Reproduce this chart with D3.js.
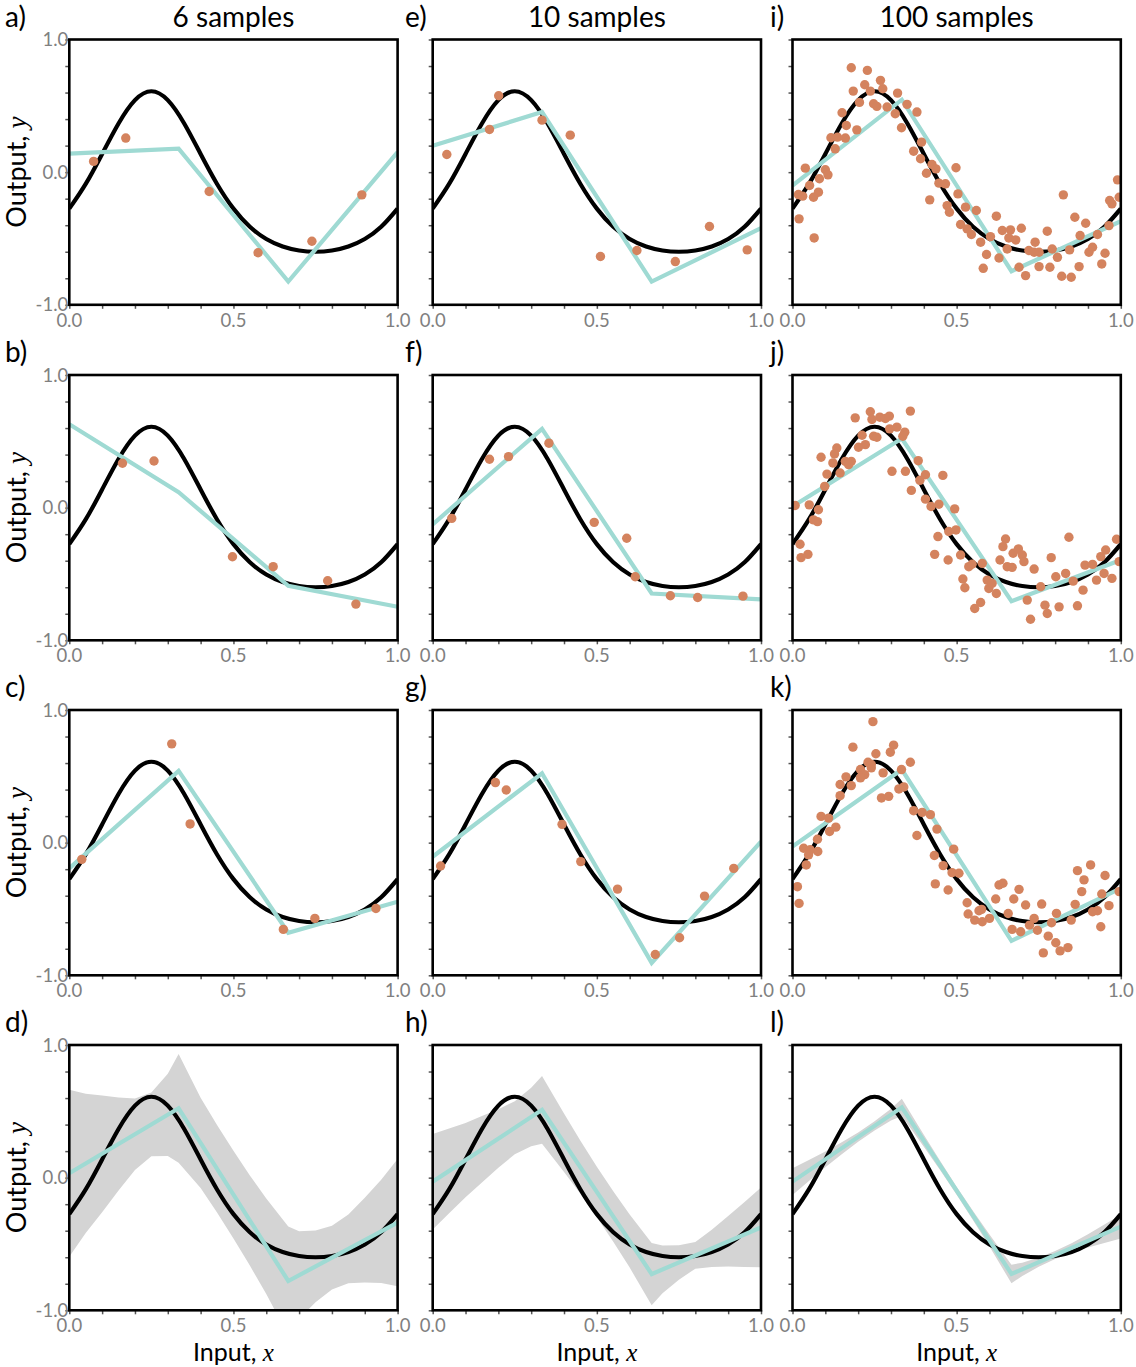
<!DOCTYPE html>
<html><head><meta charset="utf-8">
<script src="https://cdn.jsdelivr.net/npm/d3@7"></script>
<style>body{margin:0;background:#fff}svg{display:block}</style>
</head><body><svg id="c" width="1136" height="1367"></svg>
<script>
// ---------------- DATA ----------------
const colTitles = ["6 samples", "10 samples", "100 samples"];
const panelLetters = [["a)","b)","c)","d)"],["e)","f)","g)","h)"],["i)","j)","k)","l)"]];
const xTickLabels = [0, 0.5, 1.0];
const yTickLabels = [-1, 0, 1];
const xMinorTicks = [0,0.1,0.2,0.3,0.4,0.5,0.6,0.7,0.8,0.9,1.0];
const yMinorTicks = [-1,-0.8,-0.6,-0.4,-0.2,0,0.2,0.4,0.6,0.8,1.0];

// true function (black curve)
const trueX = [0,0.05,0.1,0.15,0.2,0.25,0.3,0.35,0.4,0.45,0.5,0.55,0.6,0.65,0.7,0.75,0.8,0.85,0.9,0.95,1.0];
const trueY = [-0.275,-0.089,0.137,0.367,0.543,0.610,0.543,0.367,0.137,-0.089,-0.275,-0.412,-0.504,-0.561,-0.591,-0.600,-0.591,-0.561,-0.504,-0.412,-0.275];

// piecewise-linear model fits (cyan), value at each knot
const knotX = [0, 0.333, 0.667, 1.0];
const fitA = [0.139, 0.177, -0.825, 0.151];
const fitB = [0.629, 0.116, -0.589, -0.747];
const fitC = [-0.194, 0.541, -0.679, -0.445];
const fitD = [0.033, 0.523, -0.779, -0.339];
const fitE = [0.199, 0.453, -0.825, -0.423];
const fitF = [-0.126, 0.594, -0.647, -0.692];
const fitG = [-0.106, 0.523, -0.906, 0.008];
const fitH = [-0.030, 0.511, -0.727, -0.375];
const fitI = [-0.101, 0.546, -0.747, -0.370];
const fitJ = [0.009, 0.521, -0.705, -0.395];
const fitK = [-0.029, 0.551, -0.740, -0.344];
const fitL = [-0.030, 0.530, -0.726, -0.369];

// training samples (orange points)
const samplesA = [[0.074,0.081],[0.172,0.257],[0.426,-0.146],[0.575,-0.608],[0.739,-0.521],[0.891,-0.171]];
const samplesB = [[0.162,0.335],[0.258,0.352],[0.497,-0.370],[0.621,-0.445],[0.787,-0.551],[0.873,-0.727]];
const samplesC = [[0.038,-0.126],[0.312,0.745],[0.368,0.141],[0.652,-0.654],[0.748,-0.571],[0.934,-0.496]];
const samplesE = [[0.043,0.133],[0.173,0.322],[0.201,0.576],[0.333,0.392],[0.419,0.279],[0.511,-0.636],[0.622,-0.591],[0.739,-0.674],[0.843,-0.410],[0.958,-0.586]];
const samplesF = [[0.058,-0.081],[0.173,0.365],[0.231,0.385],[0.354,0.486],[0.492,-0.111],[0.591,-0.231],[0.617,-0.521],[0.724,-0.664],[0.807,-0.677],[0.945,-0.667]];
const samplesG = [[0.024,-0.176],[0.191,0.453],[0.224,0.397],[0.394,0.138],[0.451,-0.143],[0.563,-0.350],[0.678,-0.843],[0.752,-0.717],[0.828,-0.403],[0.917,-0.194]];
const samplesI = [[0.179,0.787],[0.228,0.767],[0.268,0.692],[0.220,0.659],[0.185,0.611],[0.237,0.611],[0.275,0.629],[0.320,0.596],[0.204,0.526],[0.247,0.516],[0.257,0.496],[0.288,0.491],[0.313,0.440],[0.349,0.511],[0.379,0.453],[0.151,0.448],[0.164,0.352],[0.196,0.319],[0.332,0.335],[0.117,0.259],[0.137,0.264],[0.161,0.257],[0.130,0.176],[0.369,0.158],[0.390,0.101],[0.393,0.226],[0.425,0.058],[0.437,0.025],[0.408,-0.008],[0.498,0.033],[0.039,0.030],[0.100,0.018],[0.108,-0.020],[0.082,-0.050],[0.052,-0.101],[0.079,-0.151],[0.064,-0.189],[0.018,-0.169],[0.031,-0.181],[0.446,-0.083],[0.466,-0.088],[0.504,-0.164],[0.418,-0.209],[0.471,-0.252],[0.478,-0.302],[0.527,-0.264],[0.560,-0.289],[0.020,-0.352],[0.066,-0.496],[0.512,-0.395],[0.532,-0.428],[0.545,-0.470],[0.573,-0.528],[0.591,-0.621],[0.621,-0.332],[0.629,-0.647],[0.639,-0.440],[0.664,-0.435],[0.659,-0.496],[0.680,-0.511],[0.697,-0.423],[0.603,-0.486],[0.654,-0.579],[0.690,-0.717],[0.710,-0.780],[0.581,-0.725],[0.720,-0.591],[0.739,-0.528],[0.751,-0.604],[0.751,-0.712],[0.776,-0.445],[0.784,-0.717],[0.791,-0.579],[0.807,-0.642],[0.820,-0.785],[0.825,-0.171],[0.849,-0.792],[0.844,-0.586],[0.860,-0.340],[0.873,-0.712],[0.876,-0.478],[0.893,-0.385],[0.903,-0.604],[0.914,-0.566],[0.929,-0.470],[0.942,-0.692],[0.952,-0.611],[0.966,-0.214],[0.973,-0.239],[0.990,-0.058],[0.995,-0.189],[0.964,-0.403],[0.736,-0.604]];
const samplesJ = [[0.359,0.728],[0.237,0.723],[0.191,0.677],[0.266,0.682],[0.283,0.672],[0.295,0.690],[0.296,0.594],[0.318,0.607],[0.342,0.569],[0.212,0.546],[0.247,0.538],[0.257,0.531],[0.336,0.538],[0.222,0.475],[0.201,0.455],[0.135,0.450],[0.128,0.405],[0.087,0.380],[0.123,0.337],[0.161,0.349],[0.179,0.349],[0.171,0.324],[0.105,0.253],[0.145,0.261],[0.303,0.274],[0.344,0.274],[0.458,0.243],[0.383,0.354],[0.405,0.248],[0.388,0.206],[0.098,0.160],[0.362,0.130],[0.405,0.064],[0.422,0.009],[0.446,0.026],[0.494,-0.009],[0.051,0.021],[0.008,0.016],[0.079,-0.016],[0.064,-0.092],[0.076,-0.105],[0.023,-0.276],[0.026,-0.377],[0.047,-0.352],[0.476,-0.180],[0.498,-0.168],[0.443,-0.218],[0.433,-0.352],[0.474,-0.395],[0.512,-0.357],[0.537,-0.445],[0.547,-0.427],[0.519,-0.538],[0.525,-0.604],[0.555,-0.760],[0.573,-0.715],[0.578,-0.420],[0.593,-0.546],[0.598,-0.609],[0.608,-0.571],[0.621,-0.647],[0.649,-0.236],[0.641,-0.294],[0.632,-0.395],[0.654,-0.445],[0.669,-0.450],[0.672,-0.344],[0.688,-0.311],[0.700,-0.357],[0.705,-0.407],[0.736,-0.463],[0.715,-0.697],[0.725,-0.841],[0.769,-0.735],[0.776,-0.798],[0.756,-0.596],[0.788,-0.377],[0.812,-0.748],[0.842,-0.223],[0.802,-0.521],[0.832,-0.496],[0.855,-0.554],[0.868,-0.740],[0.885,-0.622],[0.891,-0.433],[0.914,-0.428],[0.926,-0.546],[0.939,-0.369],[0.954,-0.319],[0.949,-0.496],[0.973,-0.533],[0.987,-0.238],[0.995,-0.407],[0.242,0.665]];
const samplesK = [[0.245,0.912],[0.184,0.720],[0.308,0.735],[0.298,0.682],[0.254,0.670],[0.359,0.606],[0.230,0.606],[0.240,0.564],[0.207,0.551],[0.220,0.513],[0.276,0.526],[0.332,0.551],[0.163,0.496],[0.145,0.438],[0.179,0.430],[0.145,0.354],[0.271,0.337],[0.293,0.349],[0.324,0.405],[0.339,0.420],[0.087,0.198],[0.110,0.185],[0.132,0.117],[0.113,0.084],[0.369,0.241],[0.395,0.228],[0.420,0.211],[0.440,0.102],[0.379,0.054],[0.076,0.026],[0.034,-0.042],[0.054,-0.054],[0.077,-0.067],[0.049,-0.092],[0.042,-0.168],[0.491,-0.049],[0.432,-0.097],[0.459,-0.173],[0.486,-0.226],[0.507,-0.231],[0.435,-0.311],[0.474,-0.357],[0.015,-0.332],[0.020,-0.458],[0.532,-0.453],[0.535,-0.538],[0.555,-0.584],[0.578,-0.596],[0.600,-0.571],[0.576,-0.503],[0.619,-0.425],[0.629,-0.319],[0.641,-0.306],[0.657,-0.534],[0.674,-0.425],[0.690,-0.352],[0.669,-0.654],[0.695,-0.672],[0.710,-0.470],[0.736,-0.571],[0.746,-0.660],[0.759,-0.463],[0.779,-0.705],[0.802,-0.755],[0.815,-0.816],[0.839,-0.791],[0.764,-0.831],[0.804,-0.533],[0.789,-0.604],[0.849,-0.584],[0.861,-0.465],[0.868,-0.211],[0.888,-0.281],[0.881,-0.369],[0.908,-0.168],[0.952,-0.248],[0.942,-0.387],[0.964,-0.475],[0.929,-0.513],[0.939,-0.634],[0.995,-0.369],[0.914,-0.521],[0.722,-0.622],[0.240,0.589],[0.207,0.488],[0.568,-0.513]];

// uncertainty band (gray) for bottom row: upper / lower edges
const bandX = [0,0.05,0.1,0.15,0.2,0.25,0.3,0.333,0.4,0.45,0.5,0.55,0.6,0.667,0.7,0.75,0.8,0.85,0.9,0.95,1.0];
const bandUpperD = [0.663,0.632,0.620,0.604,0.597,0.641,0.784,0.933,0.602,0.397,0.202,0.017,-0.158,-0.369,-0.405,-0.399,-0.363,-0.277,-0.151,-0.015,0.141];
const bandLowerD = [-0.597,-0.418,-0.260,-0.096,0.057,0.161,0.164,0.113,-0.078,-0.263,-0.458,-0.663,-0.878,-1.189,-1.065,-0.939,-0.843,-0.797,-0.791,-0.795,-0.819];
const bandUpperH = [0.330,0.371,0.412,0.464,0.515,0.576,0.677,0.766,0.483,0.278,0.082,-0.103,-0.278,-0.492,-0.512,-0.509,-0.486,-0.393,-0.290,-0.183,-0.075];
const bandLowerH = [-0.390,-0.269,-0.148,-0.036,0.075,0.176,0.237,0.256,0.043,-0.122,-0.298,-0.483,-0.678,-0.962,-0.872,-0.769,-0.686,-0.673,-0.670,-0.673,-0.675];
const bandUpperL = [0.070,0.134,0.198,0.267,0.341,0.426,0.520,0.595,0.323,0.125,-0.068,-0.251,-0.429,-0.656,-0.641,-0.602,-0.553,-0.495,-0.426,-0.353,-0.279];
const bandLowerL = [-0.130,-0.026,0.078,0.177,0.271,0.356,0.430,0.465,0.233,0.055,-0.128,-0.321,-0.519,-0.796,-0.741,-0.672,-0.613,-0.565,-0.526,-0.493,-0.459];

// ---------------- LAYOUT / STYLE ----------------
const W = 328.3, H = 265.3;
const colLeft = [69.3, 432.7, 792.5];
const rowTop = [39.5, 375, 710, 1045];
const letterX = [5, 405, 770];
const FONT = "Lato, 'Open Sans', 'DejaVu Sans', sans-serif";
const MATH = "'Liberation Serif','DejaVu Serif',serif";
const C_FIT = "#9fdad3", C_PT = "#d4835e", C_BAND = "#d4d4d4";

const panels = [
  {c:0,r:0,pts:samplesA,fit:fitA},{c:0,r:1,pts:samplesB,fit:fitB},{c:0,r:2,pts:samplesC,fit:fitC},{c:0,r:3,fit:fitD,up:bandUpperD,lo:bandLowerD},
  {c:1,r:0,pts:samplesE,fit:fitE},{c:1,r:1,pts:samplesF,fit:fitF},{c:1,r:2,pts:samplesG,fit:fitG},{c:1,r:3,fit:fitH,up:bandUpperH,lo:bandLowerH},
  {c:2,r:0,pts:samplesI,fit:fitI},{c:2,r:1,pts:samplesJ,fit:fitJ},{c:2,r:2,pts:samplesK,fit:fitK},{c:2,r:3,fit:fitL,up:bandUpperL,lo:bandLowerL}
];

const svg = d3.select("#c");
const x = d3.scaleLinear().domain([0,1]).range([0,W]);
const y = d3.scaleLinear().domain([-1,1]).range([H,0]);
const fmt = v => d3.format(".1f")(v).replace("\u2212","-");

// column titles
svg.selectAll("text.title").data(colTitles).join("text")
  .attr("class","title")
  .attr("x",(d,i)=>colLeft[i]+W/2).attr("y",27)
  .attr("text-anchor","middle").attr("font-family",FONT).attr("font-size",28).attr("fill","#000")
  .text(d=>d);

panels.forEach((p,idx)=>{
  const g = svg.append("g").attr("transform",`translate(${colLeft[p.c]},${rowTop[p.r]})`);
  const cid = "clip"+idx;
  g.append("clipPath").attr("id",cid).append("rect").attr("x",0).attr("y",0).attr("width",W).attr("height",H);
  const inner = g.append("g").attr("clip-path",`url(#${cid})`);

  if (p.up) {
    const bd = bandX.map((bx,i)=>({x:bx,u:p.up[i],l:p.lo[i]}));
    inner.append("path").datum(bd)
      .attr("d", d3.area().x(d=>x(d.x)).y0(d=>y(d.l)).y1(d=>y(d.u)))
      .attr("fill",C_BAND).attr("stroke","none");
  }
  const td = trueX.map((tx,i)=>[tx,trueY[i]]);
  inner.append("path").datum(td)
    .attr("d", d3.line().x(d=>x(d[0])).y(d=>y(d[1])).curve(d3.curveNatural))
    .attr("fill","none").attr("stroke","#000").attr("stroke-width",4.2);
  const fd = knotX.map((kx,i)=>[kx,p.fit[i]]);
  inner.append("path").datum(fd)
    .attr("d", d3.line().x(d=>x(d[0])).y(d=>y(d[1])))
    .attr("fill","none").attr("stroke",C_FIT).attr("stroke-width",4.2).attr("stroke-linejoin","miter");
  if (p.pts) {
    inner.selectAll("circle").data(p.pts).join("circle")
      .attr("cx",d=>x(d[0])).attr("cy",d=>y(d[1])).attr("r",4.7).attr("fill",C_PT);
  }

  // ticks
  const ax = g.append("g").attr("transform",`translate(0,${H})`)
    .call(d3.axisBottom(x).tickValues(xMinorTicks).tickSize(4).tickFormat(""));
  const ay = g.append("g").call(d3.axisLeft(y).tickValues(yMinorTicks).tickSize(4).tickFormat(""));
  [ax,ay].forEach(a=>{ a.select(".domain").remove(); a.selectAll("line").attr("stroke","#555").attr("stroke-width",1.5); });

  // tick labels
  g.selectAll("text.xl").data(xTickLabels).join("text").attr("class","xl")
    .attr("x",d=>x(d)).attr("y",H+22).attr("text-anchor","middle")
    .attr("font-family",FONT).attr("font-size",18.5).attr("fill","#808080").text(d=>fmt(d));
  if (p.c===0) {
    g.selectAll("text.yl").data(yTickLabels).join("text").attr("class","yl")
      .attr("x",-1).attr("y",d=>y(d)).attr("dy","0.36em").attr("text-anchor","end")
      .attr("font-family",FONT).attr("font-size",18.5).attr("fill","#808080").text(d=>fmt(d));
    const yl = g.append("text").attr("transform",`translate(-43,${H/2}) rotate(-90)`)
      .attr("text-anchor","middle").attr("font-family",FONT).attr("font-size",27).attr("fill","#000");
    yl.append("tspan").text("Output, ");
    yl.append("tspan").attr("font-family",MATH).attr("font-style","italic").text("y");
  }
  if (p.r===3) {
    const xl = g.append("text").attr("x",W/2).attr("y",H+51).attr("text-anchor","middle")
      .attr("font-family",FONT).attr("font-size",25).attr("fill","#000");
    xl.append("tspan").text("Input, ");
    xl.append("tspan").attr("font-family",MATH).attr("font-style","italic").text("x");
  }

  // frame
  g.append("rect").attr("x",0).attr("y",0).attr("width",W).attr("height",H)
    .attr("fill","none").attr("stroke","#000").attr("stroke-width",2.6);

  // panel letter
  svg.append("text").attr("x",letterX[p.c]).attr("y",rowTop[p.r]-13)
    .attr("font-family",FONT).attr("font-size",28).attr("fill","#000").text(panelLetters[p.c][p.r]);
});
</script>
</body></html>
